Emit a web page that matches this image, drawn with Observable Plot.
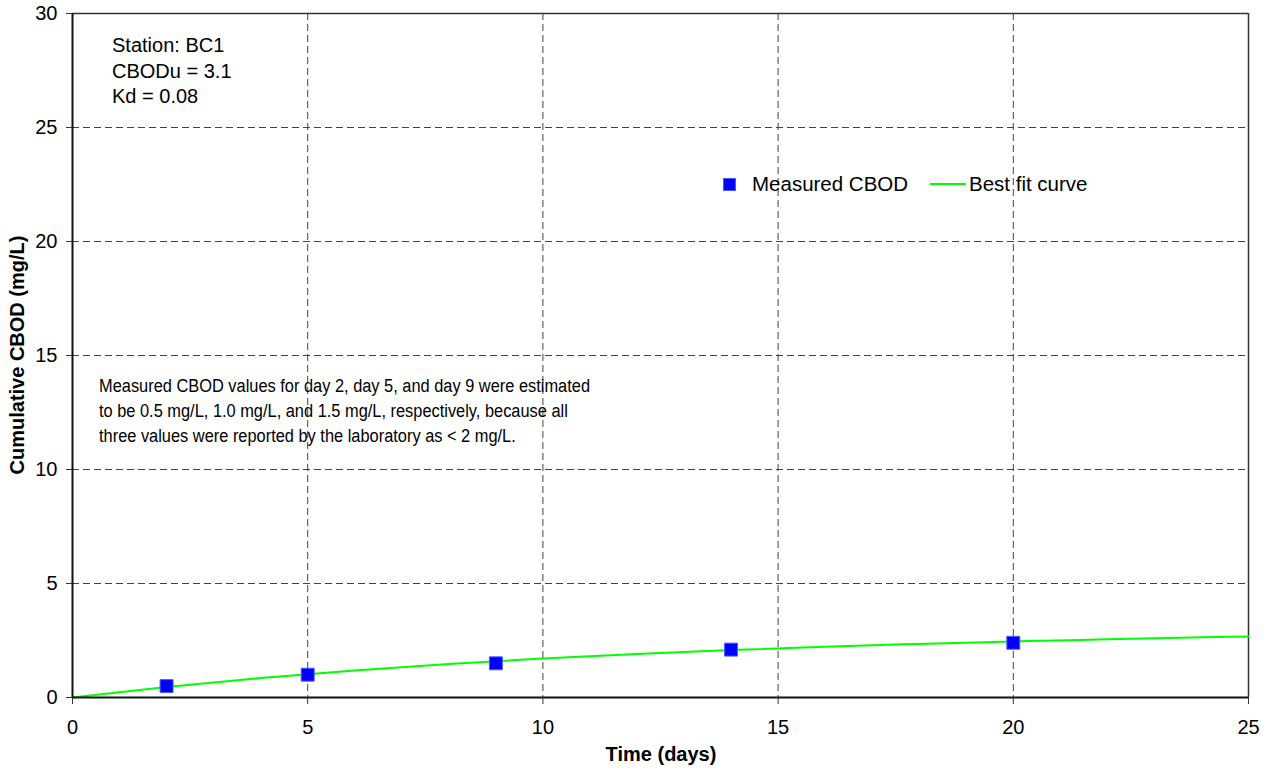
<!DOCTYPE html>
<html>
<head>
<meta charset="utf-8">
<script src="https://cdn.jsdelivr.net/npm/d3@7"></script>
<script src="https://cdn.jsdelivr.net/npm/@observablehq/plot@0.6"></script>
<style>
  html, body { margin: 0; padding: 0; background: #fff; }
  #wrap { position: relative; width: 1270px; height: 772px; font-family: "Liberation Sans", Arial, sans-serif; color: #000; }
  .ov { position: absolute; font-size: 20px; line-height: 25.5px; white-space: nowrap; }
  .bold { font-weight: bold; }
  .note { font-size: 18px; line-height: 25px; transform-origin: 0 0; }
</style>
</head>
<body>
<div id="wrap"></div>
<script>
// Measured data
const measuredDays = [2, 5, 9, 14, 20];
const measuredCBOD = [0.5, 1.0, 1.5, 2.1, 2.4];

// Best fit curve
const fitDays = [0, 2, 4, 6, 8, 10, 12, 14, 16, 18, 20, 22, 25];
const fitCBOD = [0, 0.46, 0.85, 1.18, 1.47, 1.71, 1.91, 2.08, 2.23, 2.35, 2.46, 2.55, 2.68];

const xTicks = [0, 5, 10, 15, 20, 25];
const yTicks = [0, 5, 10, 15, 20, 25, 30];
const xGrid = [5, 10, 15, 20];
const yGrid = [5, 10, 15, 20, 25];

const stationLines = ["Station: BC1", "CBODu = 3.1", "Kd = 0.08"];
const noteLines = [
  "Measured CBOD values for day 2, day 5, and day 9 were estimated",
  "to be 0.5 mg/L, 1.0 mg/L, and 1.5 mg/L, respectively, because all",
  "three values were reported by the laboratory as < 2 mg/L."
];
const legendLabels = ["Measured CBOD", "Best fit curve"];
const xTitle = "Time (days)";
const yTitle = "Cumulative CBOD (mg/L)";

const measured = measuredDays.map((d, i) => ({day: d, cbod: measuredCBOD[i]}));
const fit = fitDays.map((d, i) => ({day: d, cbod: fitCBOD[i]}));

const chart = Plot.plot({
  width: 1270,
  height: 772,
  marginLeft: 72,
  marginTop: 13,
  marginRight: 22,
  marginBottom: 75,
  style: {fontSize: "20px", fontFamily: "'Liberation Sans', Arial, sans-serif", color: "#000", background: "#fff"},
  x: {domain: [0, 25]},
  y: {domain: [0, 30]},
  marks: [
    Plot.gridX(xGrid, {stroke: "#444", strokeOpacity: 1, strokeDasharray: "7,4", strokeWidth: 1}),
    Plot.gridY(yGrid, {stroke: "#444", strokeOpacity: 1, strokeDasharray: "7,4", strokeWidth: 1}),
    Plot.ruleY([30], {stroke: "#333", strokeWidth: 1.5}),
    Plot.ruleX([25], {stroke: "#333", strokeWidth: 1.5}),
    Plot.line(fit, {x: "day", y: "cbod", stroke: "#00ff00", strokeWidth: 2, curve: "monotone-x"}),
    Plot.dot(measured, {x: "day", y: "cbod", symbol: "square", r: 7.3, fill: "#0000ff", stroke: "#4a5cff", strokeWidth: 1}),
    Plot.ruleX([0], {stroke: "#111", strokeWidth: 2}),
    Plot.ruleY([0], {stroke: "#111", strokeWidth: 2}),
    Plot.axisX({ticks: xTicks, tickSize: 7, tickPadding: 15, label: null, stroke: "#333"}),
    Plot.axisY({ticks: yTicks, tickSize: 6, tickPadding: 9, label: null, stroke: "#333"})
  ]
});

const wrap = document.getElementById("wrap");
wrap.appendChild(chart);

function ov(html, css, cls) {
  const d = document.createElement("div");
  d.className = "ov" + (cls ? " " + cls : "");
  d.innerHTML = html;
  Object.assign(d.style, css);
  wrap.appendChild(d);
  return d;
}

// Station annotation
ov(stationLines.join("<br>"), {left: "112px", top: "33px"});
// Note annotation (condensed text box, first line ~491px wide)
const note = ov(noteLines.map(s => s.replace(/</g, "&lt;")).join("<br>"), {left: "99px", top: "374px"}, "note");
const nw = note.getBoundingClientRect().width;
if (nw > 0) note.style.transform = `scaleX(${491 / nw})`;

// Legend
ov("", {left: "723px", top: "178px", width: "13px", height: "13px", background: "#0000ff", border: "1px solid #4a5cff", boxSizing: "border-box"});
ov(legendLabels[0], {left: "752px", top: "171px", fontSize: "20.5px"});
ov("", {left: "930px", top: "183px", width: "36px", height: "2px", background: "#00ff00"});
ov(legendLabels[1], {left: "969px", top: "171px", fontSize: "20.5px"});

// Axis titles
ov(xTitle, {left: "0px", width: "1322px", textAlign: "center", top: "742px"}, "bold");
ov(yTitle, {left: "18px", top: "355px", transform: "translate(-50%, -50%) rotate(-90deg)"}, "bold");
</script>
</body>
</html>
